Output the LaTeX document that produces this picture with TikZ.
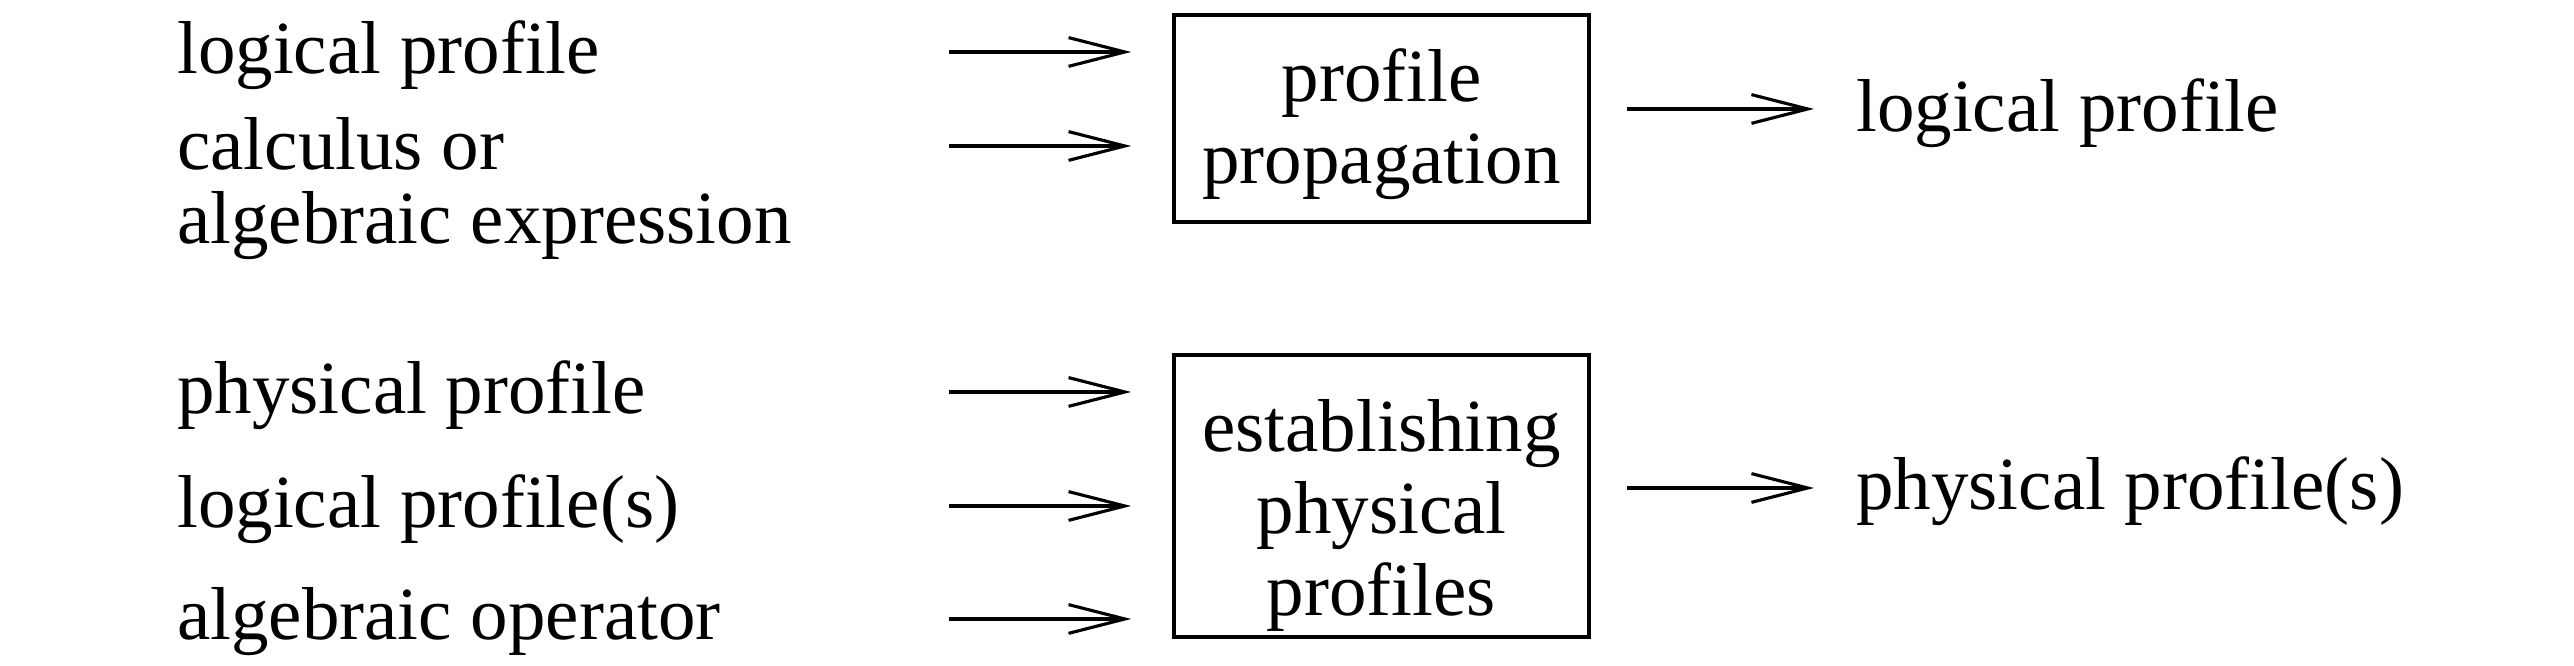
\documentclass[tikz,border=0pt]{standalone}
\usepackage{fontspec}
\setmainfont{Liberation Serif}
\usepackage{tikz}
\usetikzlibrary{arrows.meta, calc, positioning}

\begin{document}
\begin{tikzpicture}[
    x=0.16pt, y=-0.16pt,
    >={Straight Barb[length=9pt, width=4.6pt]},
    % Processing block
    procbox/.style={
        rectangle, draw=black, line width=0.6pt,
        minimum width=66.4pt, align=center,
        font=\fontsize{12}{13.1}\selectfont, inner sep=0pt
    },
    % Input and output texts
    intext/.style={
        anchor=west, inner sep=0pt, align=left,
        font=\fontsize{12}{11.8}\selectfont
    },
    % Arrows into a block
    inflow/.style={
        ->, line width=0.5pt, shorten >=6.56pt
    },
    % Arrows out of a block
    outflow/.style={
        ->, line width=0.5pt, shorten <=5.76pt, shorten >=6.56pt
    }
]
\useasboundingbox (0,0) rectangle (2574,666);
% ── Blocks ───────────────────────────────────────────────────
\node[procbox, minimum height=33.1pt] (prop) at (1381.5, 118.5)
    {\rule{0pt}{10.3pt}profile\\propagation};
\node[procbox, minimum height=45.1pt] (estab) at (1381.5, 496)
    {\rule{0pt}{14.6pt}establishing\\physical\\profiles};
% ── Inputs (left) ────────────────────────────────────────────
\node[intext] (inLog) at (176, 55) {logical profile};
\node[intext, anchor=north west] (inCalc) at (176, 116)
    {calculus or\\algebraic expression};
\node[intext] (inPhys) at (176, 395) {physical profile};
\node[intext] (inLogs) at (176, 509) {logical profile(s)};
\node[intext] (inOp) at (176, 622) {algebraic operator};
% arrow tails
\coordinate (tLog)  at (949, 52);
\coordinate (tCalc) at (949, 146);
\coordinate (tPhys) at (949, 392);
\coordinate (tLogs) at (949, 506);
\coordinate (tOp)   at (949, 619);
% ── Outputs (right) ──────────────────────────────────────────
\node[intext] (outLog) at (1855, 113) {logical profile};
\node[intext] (outPhys) at (1855, 491) {physical profile(s)};
% ── Arrows: profile propagation ──────────────────────────────
\draw[inflow] (tLog) -- (tLog -| prop.west);
\draw[inflow] (tCalc) -- (tCalc -| prop.west);
\draw[outflow] (prop.east |- 0,109) -- (outLog.west |- 0,109);
% ── Arrows: establishing physical profiles ───────────────────
\draw[inflow] (tPhys) -- (tPhys -| estab.west);
\draw[inflow] (tLogs) -- (tLogs -| estab.west);
\draw[inflow] (tOp) -- (tOp -| estab.west);
\draw[outflow] (estab.east |- 0,488) -- (outPhys.west |- 0,488);
\end{tikzpicture}
\end{document}
